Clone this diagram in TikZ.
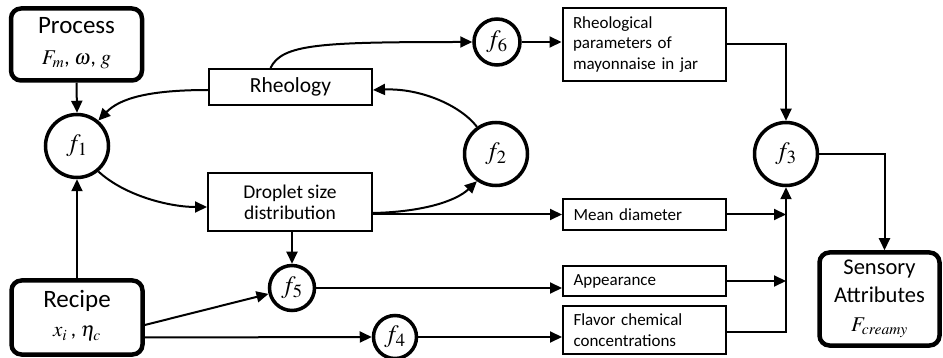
\documentclass[tikz,border=0pt]{standalone}
\usepackage{mathptmx}
\usepackage{fontspec}
\setmainfont{Carlito}
\usetikzlibrary{arrows.meta}

\tikzset{
  endbox/.style={draw, line width=4.5pt, rounded corners=10pt, align=center, inner sep=0pt},
  qbox/.style={draw, line width=2pt, inner sep=0pt},
  fn/.style={circle, draw, line width=3.5pt, inner sep=0pt, font=\fontsize{25}{28}\selectfont},
  arr/.style={line width=2pt, -{Triangle[length=12pt,width=11pt]}},
  rtxt/.style={qbox, align=left, text width=142pt, minimum width=163pt, font=\fontsize{17}{20.5}\selectfont},
}

\begin{document}
\begin{tikzpicture}[x=1pt,y=-1pt]
\useasboundingbox (0,0) rectangle (943,358);

% input and output blocks
\node[endbox, minimum width=131pt, minimum height=72pt, font=\fontsize{25}{31}\selectfont] (proc) at (76.5,44.5)
  {Process\\{\fontsize{21}{24}\selectfont $F_m$, $\omega$, $g$\strut}};
\node[endbox, minimum width=131pt, minimum height=74pt, font=\fontsize{25}{29}\selectfont] (rec) at (77,317.5)
  {Recipe\\{\fontsize{21}{24}\selectfont $x_i$\,, $\eta_c$\strut}};
\node[endbox, minimum width=120pt, minimum height=93pt, font=\fontsize{22.5}{28.5}\selectfont] (sens) at (879.5,299)
  {Sensory\\Attributes\\{\fontsize{21}{24}\selectfont $F_{creamy}$\strut}};

% intermediate quantities
\node[qbox, minimum width=163pt, minimum height=36pt, font=\fontsize{21.5}{24}\selectfont] (rheo) at (290.5,87) {Rheology};
\node[qbox, minimum width=164pt, minimum height=58pt, align=center, font=\fontsize{19.5}{21}\selectfont] (drop) at (290,202) {Droplet size\\distribution};
\node[rtxt, minimum height=73pt] (par) at (644,44.5) {Rheological\\parameters of\\mayonnaise in jar};
\node[rtxt, minimum height=31pt] (mean) at (644.5,214.5) {Mean diameter};
\node[rtxt, minimum height=30pt] (app) at (644.5,281) {Appearance};
\node[rtxt, minimum height=48pt] (fl) at (644.5,330) {Flavor chemical\\concentrations};

% functions
\node[fn, minimum size=63pt] (f1) at (77,146) {$f_1$};
\node[fn, minimum size=63pt] (f2) at (496,154) {$f_2$};
\node[fn, minimum size=63pt] (f3) at (786,154) {$f_3$};
\node[fn, minimum size=43pt] (f4) at (395,337) {$f_4$};
\node[fn, minimum size=45pt] (f5) at (292,288) {$f_5$};
\node[fn, minimum size=46pt] (f6) at (497,42) {$f_6$};

% straight connectors
\draw[arr] (proc.south) -- (f1.north);
\draw[arr] (rec.north) -- (f1.south);
\draw[arr] ([yshift=-7.5pt]rec.east) -- (f5);
\draw[arr] ([yshift=-20pt]rec.east) -- (f4.west);
\draw[arr] (f4.east) -- (f4.east -| fl.west);
\draw[arr] (f5.east) -- (f5.east -| app.west);
\draw[arr] (drop.south -| f5.north) -- (f5.north);
\draw[arr] (drop.east |- mean.west) -- (mean.west);
\draw[arr] (f6.east) -- (f6.east -| par.west);
\draw[arr] (par.east) -| (f3.north);
\draw[arr] (mean.east) -- (mean.east -| f3.south);
\draw[arr] (app.east) -- (app.east -| f3.south);
\draw[arr] ([yshift=-2pt]fl.east) -| (f3.south);
\draw[arr] (f3.east) -| ([xshift=5pt]sens.north);

% curved connectors of the loop
\draw[arr] ([yshift=-3pt]rheo.west) .. controls (150,90) and (120,98) .. (f1.50);
\draw[arr] (f1.-50) .. controls (125,196) and (170,207) .. ([yshift=-5pt]drop.west);
\draw[arr] ([yshift=-11pt]drop.east) .. controls (420,212) and (455,202) .. (f2.235);
\draw[arr] (f2.125) .. controls (460,105) and (420,88) .. ([yshift=-3pt]rheo.east);
\draw[arr] ([xshift=-20pt]rheo.north) .. controls (282,44) and (320,42) .. (f6.west);
\end{tikzpicture}
\end{document}
